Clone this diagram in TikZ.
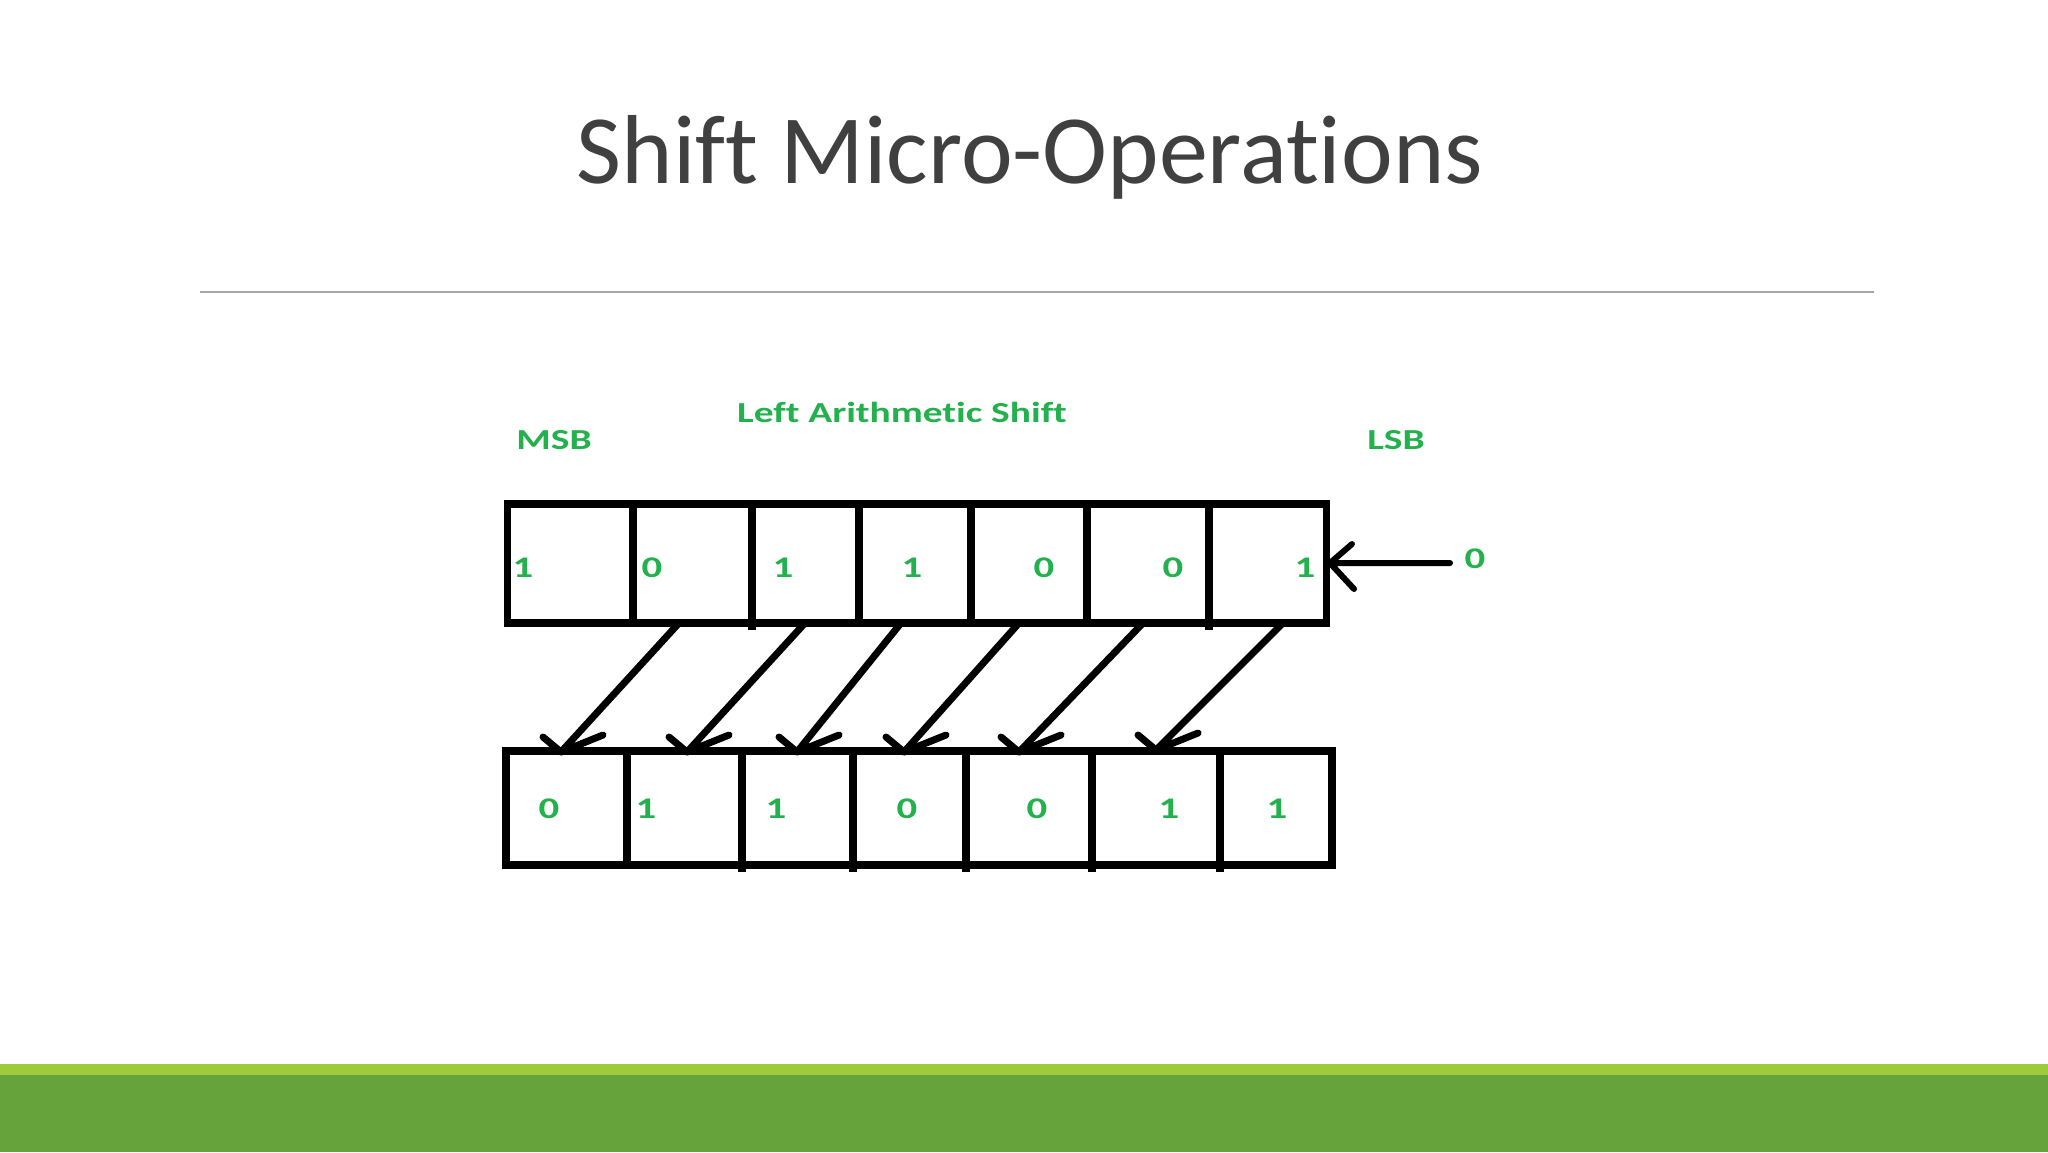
\documentclass[tikz,border=0pt]{standalone}
\usepackage{fontspec}
\setmainfont{Carlito}[Ligatures=NoCommon]
\usepackage{graphicx}
\usetikzlibrary{arrows.meta,calc}
\definecolor{titlegray}{HTML}{404040}
\definecolor{rulegray}{HTML}{A6A6A6}
\definecolor{paintgreen}{HTML}{22B14C}
\definecolor{barlight}{HTML}{9DCB3B}
\definecolor{bardark}{HTML}{66A33A}
\newcommand{\stretchtxt}[1]{\scalebox{1.36}[1]{#1}}
\begin{document}
\begin{tikzpicture}[x=1pt,y=-1pt,
  lbl/.style={font=\fontsize{29}{29}\selectfont\bfseries, text=paintgreen, inner sep=0pt, anchor=base},
  dig/.style={font=\fontsize{30}{30}\selectfont\bfseries, text=paintgreen, inner sep=0pt, anchor=base},
  reg/.style={line width=7.5pt, draw=black},
  conn/.style={line width=7pt, line join=round, line cap=round, draw=black},
]
\fill[white] (0,0) rectangle (2048,1152);
\useasboundingbox (0,0) rectangle (2048,1152);

% title and rule
\node[font=\fontsize{98}{98}\selectfont, text=titlegray, anchor=base, inner sep=0pt] (title) at (1030,183) {Shift Micro-Operations};
\draw[rulegray, line width=2pt] (200,292) -- (1874,292);

% bottom bars
\fill[barlight] (0,1064) rectangle (2048,1076);
\fill[bardark] (0,1075) rectangle (2048,1152);

% labels
\node[lbl] (title2) at (902,422) {\stretchtxt{Left Arithmetic Shift}};
\node[lbl] (msb) at (554,449) {\stretchtxt{MSB}};
\node[lbl] (lsb) at (1396,449) {\stretchtxt{LSB}};

% top register
\draw[reg] (507.5,504) rectangle (1326.5,623);
\foreach \x in {633,859,971,1087} \draw[reg] (\x,504) -- (\x,623);
\foreach \x in {752,1209} \draw[reg] (\x,504) -- (\x,630);

% bottom register
\draw[reg] (506,751) rectangle (1332,865);
\draw[reg] (627,751) -- (627,865);
\foreach \x in {742,853,966,1092,1220} \draw[reg] (\x,751) -- (\x,872);

% top digits
\node[dig] (t1) at (523,577) {\stretchtxt{1}};
\node[dig] (t2) at (652,577) {\stretchtxt{0}};
\node[dig] (t3) at (783,577) {\stretchtxt{1}};
\node[dig] (t4) at (912,577) {\stretchtxt{1}};
\node[dig] (t5) at (1044,577) {\stretchtxt{0}};
\node[dig] (t6) at (1173,577) {\stretchtxt{0}};
\node[dig] (t7) at (1305,577) {\stretchtxt{1}};

% bottom digits
\node[dig] (b1) at (549,818) {\stretchtxt{0}};
\node[dig] (b2) at (646,818) {\stretchtxt{1}};
\node[dig] (b3) at (776,818) {\stretchtxt{1}};
\node[dig] (b4) at (907,818) {\stretchtxt{0}};
\node[dig] (b5) at (1037,818) {\stretchtxt{0}};
\node[dig] (b6) at (1169,818) {\stretchtxt{1}};
\node[dig] (b7) at (1277,818) {\stretchtxt{1}};

% input zero and arrow
\node[dig] (zero) at (1475,568) {\stretchtxt{0}};
\coordinate (zin) at (1450,563);
\coordinate (lsbtip) at (1330,563);
\draw[conn, line width=6pt] (zin) -- (lsbtip) -- +(22,-19) (lsbtip) -- +(24,26);

% shift arrows
\coordinate (s1) at (679,623);  \coordinate (e1) at (561,752);
\coordinate (s2) at (805,623);  \coordinate (e2) at (687,752);
\coordinate (s3) at (901,623);  \coordinate (e3) at (797,752);
\coordinate (s4) at (1019,623); \coordinate (e4) at (904,752);
\coordinate (s5) at (1143,623); \coordinate (e5) at (1019,752);
\coordinate (s6) at (1283,623); \coordinate (e6) at (1156,750);
\foreach \i in {1,...,6}
  \draw[conn] (s\i) -- (e\i) -- +(-18,-15) (e\i) -- +(42,-17);
\end{tikzpicture}
\end{document}
